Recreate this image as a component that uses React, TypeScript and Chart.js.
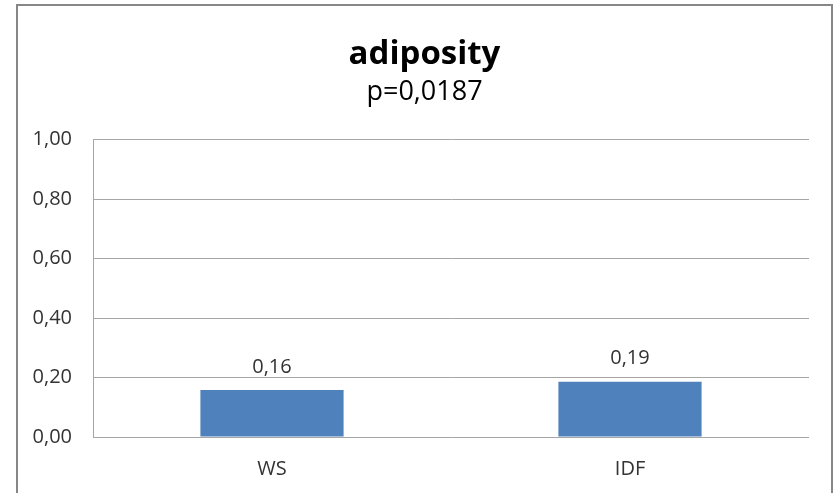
import React, { useEffect, useRef } from "react";
import { Chart, registerables } from "chart.js";

Chart.register(...registerables);

const categories = ["WS", "IDF"];
const values = [0.158, 0.186];
const yTicks = [0, 0.2, 0.4, 0.6, 0.8, 1.0];
const titleText = "adiposity";
const subtitleText = "p=0,0187";

const FONT = "'Open Sans', 'Liberation Sans', sans-serif";
const fmt = (v: number) => v.toFixed(2).replace(".", ",");

const FRAME = { left: 17, top: 5, right: 832 };

const frameAndLabels = {
  id: "frameAndLabels",
  afterLayout(chart: any) {
    chart.boxes.forEach((b: any) => {
      if (!b.axis && b.options && b.options.text !== undefined) {
        b.left = FRAME.left;
        b.right = FRAME.right;
        b.width = FRAME.right - FRAME.left;
      }
    });
  },
  beforeDraw(chart: any) {
    const ctx = chart.ctx;
    ctx.save();
    ctx.fillStyle = "#ffffff";
    ctx.fillRect(0, 0, chart.width, chart.height);
    ctx.strokeStyle = "#878787";
    ctx.lineWidth = 2;
    ctx.strokeRect(FRAME.left, FRAME.top, FRAME.right - FRAME.left, chart.height + 20);
    ctx.restore();
  },
  afterDatasetsDraw(chart: any) {
    const ctx = chart.ctx;
    const meta = chart.getDatasetMeta(0);
    ctx.save();
    ctx.font = `20px ${FONT}`;
    ctx.fillStyle = "#333333";
    ctx.textAlign = "center";
    ctx.textBaseline = "middle";
    meta.data.forEach((bar: any, i: number) => {
      ctx.fillText(fmt(values[i]), bar.x, bar.y - 23);
    });
    ctx.restore();
  },
};

export default function App() {
  const ref = useRef<HTMLCanvasElement>(null);
  useEffect(() => {
    if (!ref.current) return;
    const chart = new Chart(ref.current, {
      type: "bar",
      data: {
        labels: categories,
        datasets: [
          {
            data: values,
            backgroundColor: "#4f81bd",
            borderWidth: 0,
            categoryPercentage: 0.4,
            barPercentage: 1,
          },
        ],
      },
      options: {
        animation: false,
        responsive: false,
        layout: { padding: { left: 0, right: 25, top: 0, bottom: 0 } },
        plugins: {
          legend: { display: false },
          tooltip: { enabled: false },
          title: {
            display: true,
            text: titleText,
            color: "#000000",
            font: { family: FONT, size: 33, weight: "bold", lineHeight: 1.2 },
            padding: { top: 35, bottom: 0 },
          },
          subtitle: {
            display: true,
            text: subtitleText,
            color: "#000000",
            font: { family: FONT, size: 27, weight: "normal", lineHeight: 1.2 },
            padding: { top: 1.5, bottom: 31 },
          },
        },
        scales: {
          x: {
            grid: { display: false, drawTicks: false },
            border: { display: false },
            afterFit: (scale: any) => {
              scale.height = 56;
            },
            ticks: {
              color: "#333333",
              font: { family: FONT, size: 20 },
              padding: 20,
            },
          },
          y: {
            min: 0,
            max: 1,
            afterFit: (scale: any) => {
              scale.width = 93;
            },
            afterBuildTicks: (scale: any) => {
              scale.ticks = yTicks.map((v) => ({ value: v }));
            },
            grid: { color: "#a6a6a6", lineWidth: 1, drawTicks: false },
            border: { display: true, color: "#a6a6a6", width: 1 },
            ticks: {
              color: "#333333",
              font: { family: FONT, size: 20 },
              padding: 21,
              callback: (v: any) => fmt(Number(v)),
            },
          },
        },
      },
      plugins: [frameAndLabels],
    });
    return () => chart.destroy();
  }, []);
  return (
    <div style={{ position: "fixed", left: 0, top: 0, width: 834, height: 493 }}>
      <canvas ref={ref} width={834} height={493} style={{ display: "block" }} />
    </div>
  );
}
